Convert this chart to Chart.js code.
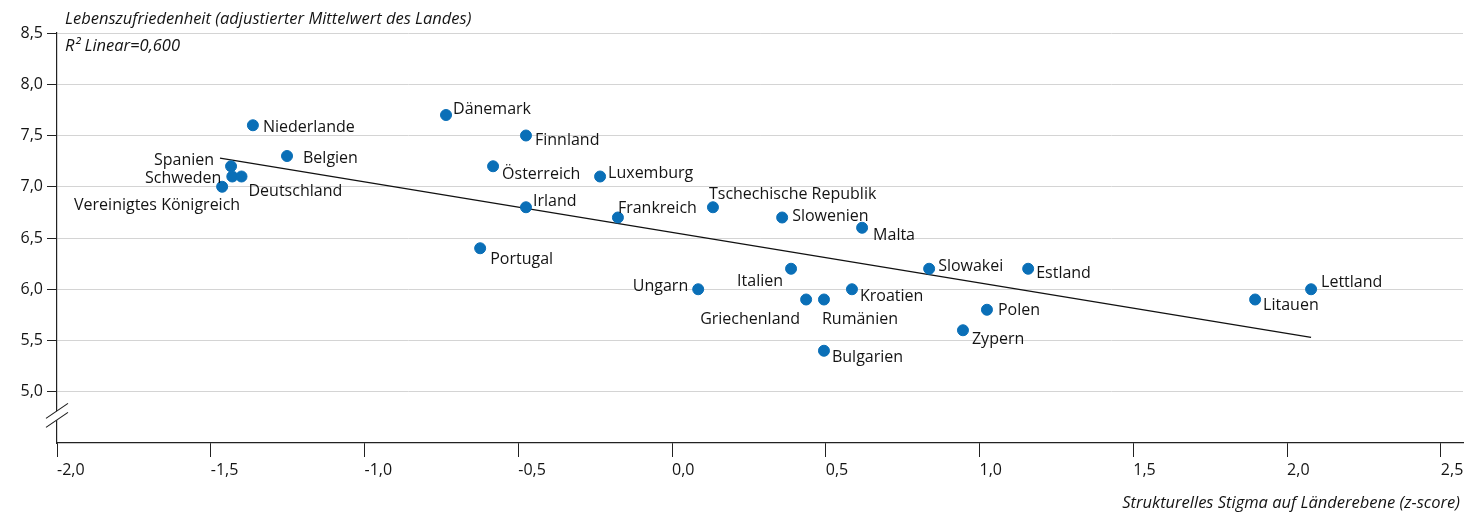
<!DOCTYPE html>
<html><head><meta charset="utf-8">
<script src="https://cdn.jsdelivr.net/npm/chart.js@4.4.1/dist/chart.umd.min.js"></script>
<style>html,body{margin:0;padding:0;background:#fff}#wrap{width:1479px;height:513px;position:relative}</style>
</head><body><div id="wrap"><canvas id="c" width="1479" height="513"></canvas></div>
<script>
const countries = ['Niederlande','Dänemark','Finnland','Belgien','Spanien','Schweden','Deutschland','Vereinigtes Königreich','Österreich','Luxemburg','Irland','Frankreich','Tschechische Republik','Slowenien','Malta','Slowakei','Estland','Italien','Portugal','Ungarn','Griechenland','Rumänien','Kroatien','Bulgarien','Zypern','Polen','Litauen','Lettland'];
const stigma = [-1.363,-0.735,-0.475,-1.252,-1.434,-1.43,-1.40,-1.463,-0.582,-0.234,-0.475,-0.176,0.133,0.358,0.618,0.836,1.158,0.387,-0.624,0.085,0.436,0.494,0.585,0.494,0.946,1.024,1.896,2.078];
const satisfaction = [7.6,7.7,7.5,7.3,7.2,7.1,7.1,7.0,7.2,7.1,6.8,6.7,6.8,6.7,6.6,6.2,6.2,6.2,6.4,6.0,5.9,5.9,6.0,5.4,5.6,5.8,5.9,6.0];
const fitX = [-1.47, 2.078];
const fitY = [7.28, 5.53];
const xTicks = [-2,-1.5,-1,-0.5,0,0.5,1,1.5,2,2.5];
const yTicks = [4.5,5,5.5,6,6.5,7,7.5,8,8.5];
const yTitle = 'Lebenszufriedenheit (adjustierter Mittelwert des Landes)';
const rSquared = 'R² Linear=0,600';
const xTitle = 'Strukturelles Stigma auf Länderebene (z-score)';

// label placement (layout only): [dx, dy, align]
const labelPlacement = {
  'Niederlande':[10,0,'left'],'Dänemark':[7,-8,'left'],'Finnland':[9,3,'left'],'Belgien':[16,0,'left'],
  'Spanien':[-17,-8,'right'],'Schweden':[-11,0,'right'],'Deutschland':[7,13,'left'],'Vereinigtes Königreich':[18,17,'right'],
  'Österreich':[9,6,'left'],'Luxemburg':[8,-5,'left'],'Irland':[7,-8,'left'],'Frankreich':[0,-11,'left'],
  'Tschechische Republik':[-4,-15,'left'],'Slowenien':[10,-3,'left'],'Malta':[11,6,'left'],'Slowakei':[9,-4,'left'],
  'Estland':[8,3,'left'],'Italien':[-8,11,'right'],'Portugal':[10,9,'left'],'Ungarn':[-10,-5,'right'],
  'Griechenland':[-6,18,'right'],'Rumänien':[-2,18,'left'],'Kroatien':[8,5,'left'],'Bulgarien':[8,5,'left'],
  'Zypern':[9,7,'left'],'Polen':[11,-1,'left'],'Litauen':[8,4,'left'],'Lettland':[10,-9,'left']
};

const FONT = '"Open Sans", "DejaVu Sans", sans-serif';
const TEXT = '#141414';
const fmt = v => v.toFixed(1).replace('.', ',');

const points = countries.map((c,i)=>({x: stigma[i], y: satisfaction[i]}));
const fitLine = fitX.map((x,i)=>({x, y: fitY[i]}));

const labelsPlugin = {
  id: 'pointLabels',
  afterDatasetsDraw(chart) {
    const ctx = chart.ctx;
    const meta = chart.getDatasetMeta(1);
    ctx.save();
    ctx.font = '16px ' + FONT;
    ctx.fillStyle = TEXT;
    ctx.textBaseline = 'middle';
    meta.data.forEach((el, i) => {
      const p = labelPlacement[countries[i]] || [8,0,'left'];
      ctx.textAlign = p[2];
      ctx.fillText(countries[i], el.x + p[0], el.y + p[1] + 2);
    });
    ctx.restore();
  },
  afterDraw(chart) {
    const ctx = chart.ctx;
    const a = chart.chartArea;
    ctx.save();
    ctx.fillStyle = TEXT;
    ctx.font = 'italic 16.5px ' + FONT;
    ctx.textBaseline = 'middle';
    ctx.textAlign = 'left';
    ctx.fillText(yTitle, a.left + 8, 19);
    ctx.fillText(rSquared, a.left + 8, 46);
    ctx.textAlign = 'right';
    ctx.fillText(xTitle, a.right - 3, 503);
    // axis break marks
    const ys = chart.scales.y;
    const yb = (ys.getPixelForValue(5) + ys.getPixelForValue(4.5)) / 2;
    const x0 = a.left;
    ctx.fillStyle = '#fff';
    ctx.beginPath();
    ctx.moveTo(x0-11, yb+1); ctx.lineTo(x0+11, yb-14); ctx.lineTo(x0+11, yb-5); ctx.lineTo(x0-11, yb+10);
    ctx.closePath(); ctx.fill();
    ctx.strokeStyle = '#222';
    ctx.lineWidth = 1.2;
    ctx.beginPath();
    ctx.moveTo(x0-11, yb+1); ctx.lineTo(x0+11, yb-14);
    ctx.moveTo(x0-11, yb+10); ctx.lineTo(x0+11, yb-5);
    ctx.stroke();
    ctx.restore();
  }
};

new Chart(document.getElementById('c'), {
  type: 'scatter',
  data: {
    datasets: [
      { type: 'line', data: fitLine, borderColor: '#111', borderWidth: 1.3, pointRadius: 0, fill: false, order: 2 },
      { data: points, backgroundColor: '#0a6fb7', borderColor: '#0a6fb7', pointRadius: 5.5, pointHoverRadius: 5.5, order: 1 }
    ]
  },
  options: {
    responsive: false,
    animation: false,
    events: [],
    layout: { padding: { top: 33, right: 16, left: 0, bottom: 0 } },
    plugins: { legend: { display: false }, tooltip: { enabled: false } },
    scales: {
      x: {
        type: 'linear', min: -2, max: 2.572,
        afterFit(s) { s.height = 70; },
        afterBuildTicks(s) { s.ticks = xTicks.map(v => ({ value: v })); },
        grid: { drawOnChartArea: false, tickLength: 14, tickColor: '#222', color: '#222' },
        border: { color: '#222', width: 1.2 },
        ticks: { align: 'start', padding: 4, color: TEXT, font: { family: FONT, size: 16 }, callback: v => fmt(v), maxRotation: 0 }
      },
      y: {
        type: 'linear', min: 4.5, max: 8.5,
        afterFit(s) { s.width = 57; },
        afterBuildTicks(s) { s.ticks = yTicks.map(v => ({ value: v })); },
        grid: {
          tickLength: 10,
          color: c => (c.tick && c.tick.value === 4.5) ? 'rgba(0,0,0,0)' : '#d4d4d4',
          tickColor: c => (c.tick && c.tick.value === 4.5) ? 'rgba(0,0,0,0)' : '#222'
        },
        border: { color: '#222', width: 1.2 },
        ticks: { padding: 4, color: TEXT, font: { family: FONT, size: 16 }, callback: v => v === 4.5 ? '' : fmt(v) }
      }
    }
  },
  plugins: [labelsPlugin]
});
</script></body></html>
